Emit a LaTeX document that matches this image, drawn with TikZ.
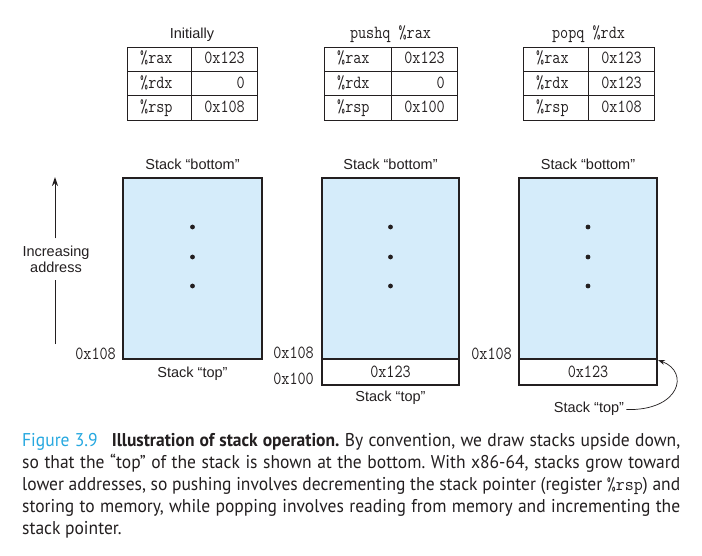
\documentclass[tikz,border=0pt]{standalone}
\usepackage{graphicx}
\usepackage{fontspec}
\setmainfont{Liberation Sans}
\newfontfamily\capfont{PT Sans}
\usetikzlibrary{arrows.meta}
\definecolor{stackblue}{RGB}{213,236,250}
\definecolor{figcyan}{RGB}{38,168,224}
\definecolor{ink}{RGB}{35,31,32}
\newcommand\mono[1]{\scalebox{0.85}[1]{\fontsize{18.5}{20}\selectfont\ttfamily #1}}
\newcommand\sanslbl{\fontsize{14.5}{16}\selectfont}
\newcommand\capstyle{\capfont\fontsize{18.5}{22}\selectfont\frenchspacing\color{ink}}
\newcommand\capone{{\color{figcyan}Figure 3.9}\hspace{0.8em}{\bfseries Illustration of stack operation.} By convention, we draw stacks upside down,}
\newcommand\captwo{so that the “top” of the stack is shown at the bottom. With x86-64, stacks grow toward}
\newcommand\capthree{lower addresses, so pushing involves decrementing the stack pointer (register {\fontsize{18.5}{22}\selectfont\ttfamily\%rsp}) and}
\newcommand\capfour{storing to memory, while popping involves reading from memory and incrementing the}
\newlength\capw
\newlength\capmax
\newcommand\regtab[8]{%
  \draw[tabline] (#2,47) rectangle (#4,120);
  \draw[tabline] (#3,47) -- (#3,120);
  \draw[tabline] (#2,71) -- (#4,71) (#2,95) -- (#4,95);
  \node[anchor=base] (#1title) at ({(#2+#4)/2},38) {#5};
  \node[anchor=base west] (#1rax) at (#2+13,63.5) {\mono{\%rax}};
  \node[anchor=base west] (#1rdx) at (#2+13,88) {\mono{\%rdx}};
  \node[anchor=base west] (#1rsp) at (#2+13,112) {\mono{\%rsp}};
  \node[anchor=base east] (#1vax) at (#4-12,63.5) {\mono{#6}};
  \node[anchor=base east] (#1vdx) at (#4-12,88) {\mono{#7}};
  \node[anchor=base east] (#1vsp) at (#4-12,112) {\mono{#8}};
}
\begin{document}
\settowidth\capw{\capstyle\capone}\setlength\capmax{\capw}%
\settowidth\capw{\capstyle\captwo}\ifdim\capw>\capmax\setlength\capmax{\capw}\fi
\settowidth\capw{\capstyle\capthree}\ifdim\capw>\capmax\setlength\capmax{\capw}\fi
\settowidth\capw{\capstyle\capfour}\ifdim\capw>\capmax\setlength\capmax{\capw}\fi
\pgfmathsetmacro\capsx{658/\capmax}%
\begin{tikzpicture}[x=1pt,y=-1pt,
  every node/.style={inner sep=0pt, text=ink},
  tabline/.style={draw=ink, line width=0.9pt},
  lbl/.style={font=\sanslbl},
  stackbox/.style={draw=ink, line width=1.2pt, fill=stackblue},
  cellbox/.style={draw=ink, line width=1.2pt, fill=white},
  dot/.style={fill=ink}]
\fill[white] (0,0) rectangle (702,555);
\useasboundingbox (0,0) rectangle (702,555);

% register tables
\regtab{ta}{127}{191.5}{257}{\sanslbl Initially}{0x123}{0}{0x108}
\regtab{tb}{324}{391}{457}{\mono{pushq \%rax}}{0x123}{0}{0x100}
\regtab{tc}{523}{588}{654}{\mono{popq \%rdx}}{0x123}{0x123}{0x108}

% stacks
\node[stackbox, minimum width=139pt, minimum height=181pt] (s1) at (192.5,268.5) {};
\node[stackbox, minimum width=137pt, minimum height=181pt] (s2) at (390.5,268.5) {};
\node[stackbox, minimum width=138pt, minimum height=181pt] (s3) at (588,268.5) {};
\node[cellbox, minimum width=137pt, minimum height=26pt] (c2) at (390.5,372) {\mono{0x123}};
\node[cellbox, minimum width=138pt, minimum height=26pt] (c3) at (588,372) {\mono{0x123}};

\foreach \cx in {192.5,390.5,588}{
  \foreach \cy in {227,257,286}{
    \fill[dot] (\cx,\cy) circle (2.4);
  }
}

% labels
\node[lbl, anchor=base] (b1) at (192.5,169.5) {Stack “bottom”};
\node[lbl, anchor=base] (b2) at (390.5,169.5) {Stack “bottom”};
\node[lbl, anchor=base] (b3) at (588,169.5) {Stack “bottom”};
\node[lbl, anchor=base] (t1) at (192.5,377.5) {Stack “top”};
\node[lbl, anchor=base] (t2) at (390.5,401.5) {Stack “top”};
\node[lbl, anchor=base] (t3) at (589,412.5) {Stack “top”};

\node[anchor=base east] (a1) at (116,359) {\mono{0x108}};
\node[anchor=base east] (a2) at (314,358.5) {\mono{0x108}};
\node[anchor=base east] (a3) at (314,384) {\mono{0x100}};
\node[anchor=base east] (a4) at (512,359) {\mono{0x108}};

% increasing address arrow
\node[lbl, align=center, inner xsep=1pt, inner ysep=7pt] (incr) at (56,259) {Increasing\\address};
\coordinate (abot) at (55,344);
\coordinate (atop) at (55,177);
\draw[ink, line width=1pt] (abot) -- (abot |- incr.south);
\draw[ink, line width=1pt, -{Stealth[length=9pt,width=6pt]}] (abot |- incr.north) -- (atop);

% curved arrow to top of popped stack
\coordinate (tip3) at (658,360);
\draw[ink, line width=0.7pt, shorten <=2pt, -{Stealth[length=7pt,width=5pt]}]
  (t3.base east) ++(0,-3) .. controls (680,411) and (690,372) .. (tip3);

% caption
\node[anchor=base west] (cap1) at (22,446) {\scalebox{\capsx}[1]{\makebox[\capmax][s]{\capstyle\capone}}};
\node[anchor=base west] (cap2) at (22,468) {\scalebox{\capsx}[1]{\makebox[\capmax][s]{\capstyle\captwo}}};
\node[anchor=base west] (cap3) at (22,490) {\scalebox{\capsx}[1]{\makebox[\capmax][s]{\capstyle\capthree}}};
\node[anchor=base west] (cap4) at (22,512) {\scalebox{\capsx}[1]{\makebox[\capmax][s]{\capstyle\capfour}}};
\node[anchor=base west] (cap5) at (22,534) {\scalebox{\capsx}[1]{\capstyle stack pointer.}};
\end{tikzpicture}
\end{document}
